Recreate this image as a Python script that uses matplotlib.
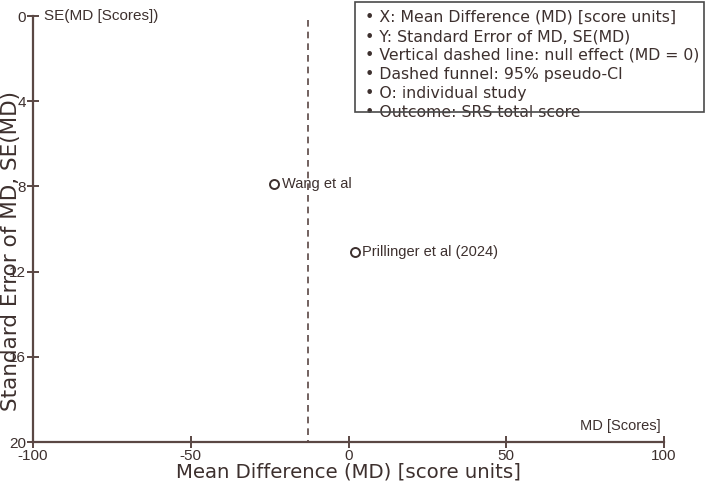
import matplotlib.pyplot as plt
from matplotlib import font_manager

# study estimates
studies = ['Wang et al', 'Prillinger et al (2024)']
md = [-23.6, 2.0]
se = [7.9, 11.1]
pooled_md = -12.8

x_ticks = [-100, -50, 0, 50, 100]
y_ticks = [0, 4, 8, 12, 16, 20]

notes = [
    '• X: Mean Difference (MD) [score units]',
    '• Y: Standard Error of MD, SE(MD)',
    '• Vertical dashed line: null effect (MD = 0)',
    '• Dashed funnel: 95% pseudo-CI',
    '• O: individual study',
    '• Outcome: SRS total score',
]

axis_col = '#5a4744'
text_col = '#3d302e'

names = {f.name for f in font_manager.fontManager.ttflist}
if 'Liberation Sans Narrow' in names:
    narrow = ['Liberation Sans Narrow', 'DejaVu Sans']
    nsize = 12
else:
    narrow = ['Liberation Sans', 'DejaVu Sans']
    nsize = 11

fig = plt.figure(figsize=(7.07, 4.86), dpi=100)
ax = fig.add_axes([33 / 707, 44 / 486, 631 / 707, 426 / 486])

ax.set_xlim(-100, 100)
ax.set_ylim(20, 0)

# pooled estimate line
ax.plot([pooled_md, pooled_md], [0.2, 20], color=axis_col, linestyle=(0, (4, 3)), linewidth=1.2)

# studies
ax.scatter(md, se, s=42, facecolors='white', edgecolors=text_col, linewidths=1.4, zorder=3)
for m, s, name in zip(md, se, studies):
    ax.text(m + 2.4, s, name, fontsize=nsize - 0.5, family=narrow, color=text_col,
            va='center', ha='left')

for side in ['top', 'right']:
    ax.spines[side].set_visible(False)
for side in ['left', 'bottom']:
    ax.spines[side].set_color(axis_col)
    ax.spines[side].set_linewidth(1.6)

ax.set_xticks(x_ticks)
ax.set_xticklabels([str(t) for t in x_ticks], family=narrow, fontsize=nsize)
ax.set_yticks(y_ticks)
ax.set_yticklabels([str(t) for t in y_ticks], family=narrow, fontsize=nsize)
ax.tick_params(direction='inout', length=8, width=1.4, color=axis_col,
               labelcolor=text_col, pad=1)

ax.set_xlabel('Mean Difference (MD) [score units]', fontsize=14.2, color=text_col, labelpad=0)
ax.set_ylabel('Standard Error of MD, SE(MD)', fontsize=15.5, color=text_col)
ax.yaxis.set_label_coords(-0.019, 0.448)

ax.text(-96.5, 0, 'SE(MD [Scores])', family=narrow, fontsize=nsize, color=text_col,
        va='center', ha='left')
ax.text(99, 19.6, 'MD [Scores]', family=narrow, fontsize=nsize - 0.5, color=text_col,
        va='bottom', ha='right')

# notes box: white fill under the text, outline drawn over it
box = (355 / 707, 1 - 112 / 486)
bw, bh = 349 / 707, 110 / 486
fig.patches.append(plt.Rectangle(box, bw, bh, transform=fig.transFigure,
                                 facecolor='white', edgecolor='none', zorder=1))
fig.patches.append(plt.Rectangle(box, bw, bh, transform=fig.transFigure,
                                 facecolor='none', edgecolor='#4a4a4a', linewidth=1.2, zorder=3))
for i, line in enumerate(notes):
    fig.text(365 / 707, 1 - (17.5 + i * 19) / 486, line, fontsize=11.3,
             color=text_col, va='center', ha='left', zorder=2)

fig.savefig('out.png', dpi=100)
